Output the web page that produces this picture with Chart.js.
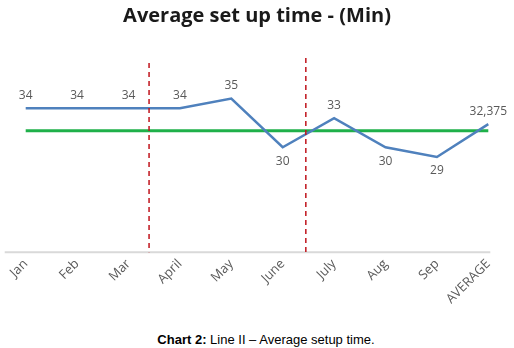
<!DOCTYPE html>
<html>
<head>
<meta charset="utf-8">
<script src="https://cdn.jsdelivr.net/npm/chart.js@4.4.0/dist/chart.umd.min.js"></script>
<style>
  body { margin: 0; background: #fff; }
  #wrap { position: relative; width: 514px; height: 318px; }
  #caption {
    font-family: "Liberation Sans", Arial, sans-serif;
    font-size: 13px;
    color: #000;
    text-align: center;
    padding-left: 18px;
    line-height: 16px;
    margin-top: 14px;
  }
</style>
</head>
<body>
<div id="wrap"><canvas id="grafico"></canvas></div>
<div id="caption"><b>Chart 2:</b> Line II – Average setup time.</div>
<script>
// data
var meses = ["Jan", "Feb", "Mar", "April", "May", "June", "July", "Aug", "Sep", "AVERAGE"];
var tempoSetup = [34, 34, 34, 34, 35, 30, 33, 30, 29, 32.375];
var linhaVerde = [31.7, 31.7, 31.7, 31.7, 31.7, 31.7, 31.7, 31.7, 31.7, 31.7];
var divisorias = [2.4, 5.45]; // category index where the red dashed lines sit
var labelsAbaixo = [5, 7, 8]; // points whose value label goes under the line

// value labels + red dashed lines + bottom axis
const extras = {
  id: "extras",
  beforeDatasetsDraw(chart) {
    const ctx = chart.ctx;
    const x = chart.scales.x;
    const area = chart.chartArea;
    ctx.save();
    ctx.strokeStyle = "#d9d9d9";
    ctx.lineWidth = 2;
    ctx.beginPath();
    ctx.moveTo(x.getPixelForValue(0) - 21, area.bottom);
    ctx.lineTo(x.getPixelForValue(meses.length - 1) + 2, area.bottom);
    ctx.stroke();
    ctx.restore();
  },
  afterDatasetsDraw(chart) {
    const ctx = chart.ctx;
    const x = chart.scales.x;
    const area = chart.chartArea;
    ctx.save();
    ctx.strokeStyle = "#c0141c";
    ctx.lineWidth = 1.5;
    ctx.setLineDash([5, 4]);
    divisorias.forEach((d, i) => {
      const px = x.getPixelForValue(d);
      ctx.beginPath();
      ctx.moveTo(px, area.top + (i == 0 ? 13 : 8));
      ctx.lineTo(px, area.bottom);
      ctx.stroke();
    });
    ctx.setLineDash([]);

    ctx.fillStyle = "#595959";
    ctx.font = "12px 'Open Sans'";
    ctx.textAlign = "center";
    ctx.textBaseline = "middle";
    const meta = chart.getDatasetMeta(0);
    meta.data.forEach((pt, i) => {
      const txt = String(tempoSetup[i]).replace(".", ",");
      const dy = labelsAbaixo.includes(i) ? 14 : -13;
      ctx.fillText(txt, pt.x, pt.y + dy);
    });
    ctx.restore();
  }
};

const ctx = document.getElementById("grafico").getContext("2d");
let myChart = new Chart(ctx, {
  type: "line",
  data: {
    labels: meses,
    datasets: [
      {
        label: "Average set up time",
        data: tempoSetup,
        borderColor: "#4f81bd",
        borderWidth: 2.5,
        pointRadius: 0,
        tension: 0,
        order: 1,
      },
      {
        label: "Media",
        data: linhaVerde,
        borderColor: "#1fb04a",
        borderWidth: 3,
        pointRadius: 0,
        order: 2,
      },
    ],
  },
  options: {
    responsive: true,
    maintainAspectRatio: false,
    animation: false,
    layout: { padding: { left: 0, right: 0, top: 0, bottom: 7 } },
    plugins: {
      legend: { display: false },
      tooltip: { enabled: false },
      title: {
        display: true,
        text: "Average set up time - (Min)",
        color: "#1a1a1a",
        font: { family: "Open Sans", size: 20, weight: "bold" },
        padding: { top: 4, bottom: 22 },
      },
    },
    scales: {
      x: {
        offset: true,
        grid: { display: false, drawTicks: false },
        border: { display: false },
        ticks: {
          color: "#595959",
          font: { family: "Open Sans", size: 13 },
          minRotation: 45,
          maxRotation: 45,
          padding: 4,
        },
      },
      y: {
        display: false,
        min: 19.2,
        max: 40,
      },
    },
  },
  plugins: [extras],
});
</script>
</body>
</html>
